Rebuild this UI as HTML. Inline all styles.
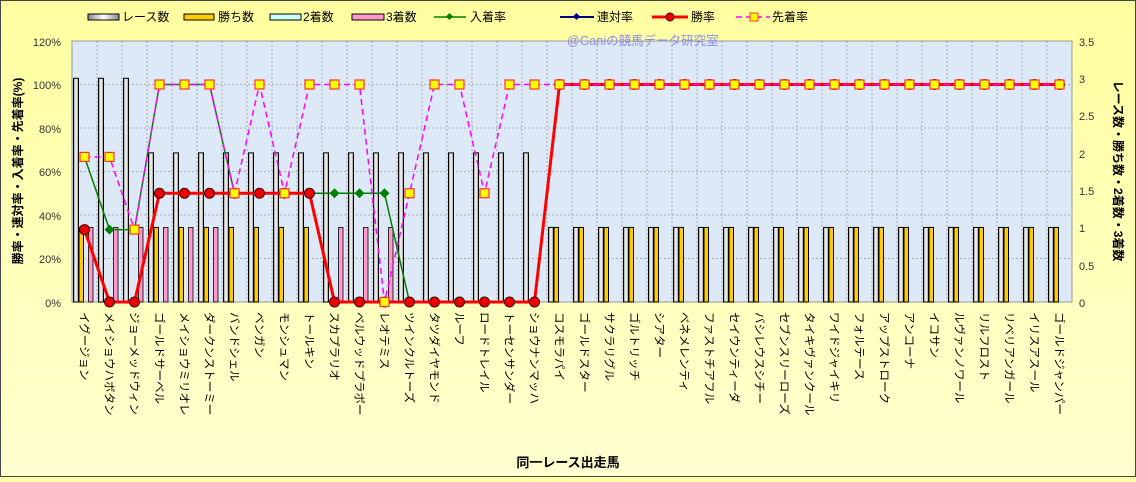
<!DOCTYPE html>
<html><head><meta charset="utf-8"><style>
body{margin:0;width:1136px;height:477px;overflow:hidden;background:#ffffa8;}
svg text{font-family:"Liberation Sans","Noto Sans CJK JP",sans-serif;}
.lbl text{font-size:11.5px;fill:#000;}
</style></head><body>
<svg id="s" width="1136" height="477" xmlns="http://www.w3.org/2000/svg">
<defs>
<linearGradient id="bg" x1="0" y1="0" x2="0" y2="1"><stop offset="0" stop-color="#ffffa0"/><stop offset="1" stop-color="#ffffd0"/></linearGradient>
<linearGradient id="wg" x1="0" y1="0" x2="1" y2="0"><stop offset="0" stop-color="#888"/><stop offset="0.5" stop-color="#fff"/><stop offset="1" stop-color="#888"/></linearGradient>
</defs>
<rect x="0.5" y="0.5" width="1135" height="476" fill="url(#bg)" stroke="#444"/>
<rect x="72" y="41" width="1000" height="261" fill="#dde9f7" stroke="#999"/>
<g id="grid" stroke="#999" stroke-dasharray="2,2" stroke-width="0.8"></g>
<g id="bars"></g>
<g id="lines"></g>
<g font-size="12">
<rect x="88" y="14" width="31" height="6" fill="url(#wg)" stroke="#000"/><text x="122" y="21">レース数</text>
<rect x="184" y="14" width="30" height="6" fill="#ffcc00" stroke="#000"/><text x="218" y="21">勝ち数</text>
<rect x="270" y="14" width="31" height="6" fill="#ccffff" stroke="#000"/><text x="303" y="21">2着数</text>
<rect x="352" y="14" width="32" height="6" fill="#ff99cc" stroke="#000"/><text x="386" y="21">3着数</text>
<line x1="434" y1="17" x2="466" y2="17" stroke="#008000" stroke-width="1.5"/><rect x="447" y="14" width="5" height="5" fill="#008000" transform="rotate(45 449.5 16.5)"/><text x="470" y="21">入着率</text>
<line x1="560" y1="17" x2="594" y2="17" stroke="#000080" stroke-width="2"/><rect x="574" y="14" width="5" height="5" fill="#000080" transform="rotate(45 576.5 16.5)"/><text x="597" y="21">連対率</text>
<line x1="652" y1="17" x2="688" y2="17" stroke="#f00" stroke-width="3"/><circle cx="670" cy="17" r="4" fill="#e00" stroke="#400"/><text x="691" y="21">勝率</text>
<line x1="736" y1="17" x2="770" y2="17" stroke="#f0f" stroke-width="1.5" stroke-dasharray="6,4"/><rect x="750" y="13" width="8" height="8" fill="#ff0" stroke="#f33"/><text x="772" y="21">先着率</text>
</g>
<text x="567" y="45" font-size="12.5" fill="#8c8cf0">@Ganiの競馬データ研究室</text>
<g font-size="11" fill="#333" text-anchor="end">
<text x="61" y="46">120%</text><text x="61" y="89">100%</text><text x="61" y="133">80%</text><text x="61" y="176">60%</text><text x="61" y="220">40%</text><text x="61" y="263">20%</text><text x="61" y="307">0%</text>
</g>
<g font-size="11" fill="#333">
<text x="1079" y="46">3.5</text><text x="1079" y="83">3</text><text x="1079" y="120">2.5</text><text x="1079" y="158">2</text><text x="1079" y="195">1.5</text><text x="1079" y="232">1</text><text x="1079" y="270">0.5</text><text x="1079" y="307">0</text>
</g>
<text transform="translate(22,171) rotate(-90)" text-anchor="middle" font-size="12" font-weight="bold">勝率・連対率・入着率・先着率(%)</text>
<text transform="translate(1114,171) rotate(90)" text-anchor="middle" font-size="12" font-weight="bold">レース数・勝ち数・2着数・3着数</text>
<text x="568" y="467" text-anchor="middle" font-size="13" font-weight="bold">同一レース出走馬</text>
<g class="lbl">
<text transform="translate(80.5,312) rotate(90)">イグージョン</text>
<text transform="translate(105.5,312) rotate(90)">メイショウハボタン</text>
<text transform="translate(130.5,312) rotate(90)">ジョーメッドウィン</text>
<text transform="translate(155.5,312) rotate(90)">ゴールドサーベル</text>
<text transform="translate(180.5,312) rotate(90)">メイショウミリオレ</text>
<text transform="translate(205.5,312) rotate(90)">ダークンストーミー</text>
<text transform="translate(230.5,312) rotate(90)">バンドシェル</text>
<text transform="translate(255.5,312) rotate(90)">ベンガン</text>
<text transform="translate(280.5,312) rotate(90)">モンシュマン</text>
<text transform="translate(305.5,312) rotate(90)">トールキン</text>
<text transform="translate(330.5,312) rotate(90)">スカプラリオ</text>
<text transform="translate(355.5,312) rotate(90)">ベルウッドプラボー</text>
<text transform="translate(380.5,312) rotate(90)">レオテミス</text>
<text transform="translate(405.5,312) rotate(90)">ツインクルトーズ</text>
<text transform="translate(430.5,312) rotate(90)">タツダイヤモンド</text>
<text transform="translate(455.5,312) rotate(90)">ルーフ</text>
<text transform="translate(480.5,312) rotate(90)">ロードトレイル</text>
<text transform="translate(505.5,312) rotate(90)">トーセンサンダー</text>
<text transform="translate(530.5,312) rotate(90)">ショウナンマッハ</text>
<text transform="translate(555.5,312) rotate(90)">コスモラパイ</text>
<text transform="translate(580.5,312) rotate(90)">ゴールドスター</text>
<text transform="translate(605.5,312) rotate(90)">サクラリグル</text>
<text transform="translate(630.5,312) rotate(90)">ゴルトリッチ</text>
<text transform="translate(655.5,312) rotate(90)">シアター</text>
<text transform="translate(680.5,312) rotate(90)">ベネメレンティ</text>
<text transform="translate(705.5,312) rotate(90)">ファストチアフル</text>
<text transform="translate(730.5,312) rotate(90)">セイウンティーダ</text>
<text transform="translate(755.5,312) rotate(90)">バシレウスシチー</text>
<text transform="translate(780.5,312) rotate(90)">セブンスリーローズ</text>
<text transform="translate(805.5,312) rotate(90)">タイキヴァンクール</text>
<text transform="translate(830.5,312) rotate(90)">ワイドジャイキリ</text>
<text transform="translate(855.5,312) rotate(90)">フォルテース</text>
<text transform="translate(880.5,312) rotate(90)">アップストローク</text>
<text transform="translate(905.5,312) rotate(90)">アンコーナ</text>
<text transform="translate(930.5,312) rotate(90)">イコサン</text>
<text transform="translate(955.5,312) rotate(90)">ルヴァンノワール</text>
<text transform="translate(980.5,312) rotate(90)">リルフロスト</text>
<text transform="translate(1005.5,312) rotate(90)">リベリアンガール</text>
<text transform="translate(1030.5,312) rotate(90)">イリスアスール</text>
<text transform="translate(1055.5,312) rotate(90)">ゴールドジャンパー</text>
</g>
</svg>
<script>
var NS="http://www.w3.org/2000/svg";
function el(p,t,a){var e=document.createElementNS(NS,t);for(var k in a)e.setAttribute(k,a[k]);document.getElementById(p).appendChild(e);return e;}
for(var i=1;i<40;i++)el("grid","line",{x1:72+25*i,y1:41,x2:72+25*i,y2:302});
for(var j=1;j<6;j++){var y=302-43.5*j;el("grid","line",{x1:72,y1:y,x2:1072,y2:y});}
var race=[],win=[],third=[],nyu=[],sho=[],sen=[];
for(var i=0;i<40;i++){race.push(i<3?3:(i<19?2:1));win.push(i>=19||(i>=3&&i<=9)||i==0?1:0);third.push((i<=5||(i>=10&&i<=12))?1:0);}
nyu=[66.7,33.3,33.3,100,100,100,50,50,50,50,50,50,50,0,0,0,0,0,0];
sho=[33.3,0,0,50,50,50,50,50,50,50,0,0,0,0,0,0,0,0,0];
sen=[66.7,66.7,33.3,100,100,100,50,100,50,100,100,100,0,50,100,100,50,100,100];
for(var i=19;i<40;i++){nyu.push(100);sho.push(100);sen.push(100);}
function by(v){return 302-74.57*v;}
function py(p){return 302-2.175*p;}
for(var i=0;i<40;i++){var x0=72+25*i;
 el("bars","rect",{x:x0+1.5,y:by(race[i]),width:5,height:302-by(race[i]),fill:"url(#wg)",stroke:"#000","stroke-width":1});
 if(win[i])el("bars","rect",{x:x0+7,y:by(1),width:4.5,height:302-by(1),fill:"#ffcc00",stroke:"#000","stroke-width":1});
 if(third[i])el("bars","rect",{x:x0+16.5,y:by(1),width:4.5,height:302-by(1),fill:"#ff99cc",stroke:"#000","stroke-width":0.8});
}
function pts(a){return a.map(function(p,i){return (84.5+25*i)+","+py(p);}).join(" ");}
el("lines","polyline",{points:pts(nyu),fill:"none",stroke:"#008000","stroke-width":1.5});
nyu.forEach(function(p,i){var x=84.5+25*i,y=py(p);el("lines","rect",{x:x-3.5,y:y-3.5,width:7,height:7,fill:"#008000",transform:"rotate(45 "+x+" "+y+")"});});
el("lines","polyline",{points:pts(sho),fill:"none",stroke:"#000080","stroke-width":2});
el("lines","polyline",{points:pts(sho),fill:"none",stroke:"#f00","stroke-width":3});
sho.forEach(function(p,i){el("lines","circle",{cx:84.5+25*i,cy:py(p),r:5,fill:"#e00",stroke:"#400","stroke-width":1});});
el("lines","polyline",{points:pts(sen),fill:"none",stroke:"#f0f","stroke-width":1.5,"stroke-dasharray":"6,4"});
sen.forEach(function(p,i){el("lines","rect",{x:84.5+25*i-4.5,y:py(p)-4.5,width:9,height:9,fill:"#ff0",stroke:"#f33","stroke-width":1.2});});
</script>
</body></html>
